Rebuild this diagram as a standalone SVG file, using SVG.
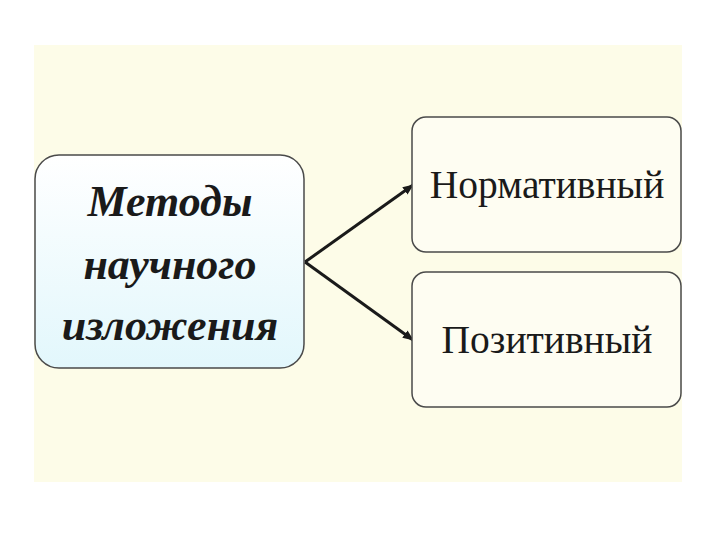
<svg xmlns="http://www.w3.org/2000/svg" width="720" height="540" viewBox="0 0 720 540">
<style>
.box{stroke:#4a4a4a;stroke-width:1.5}
.conn{stroke:#1a1a1a;stroke-width:3;fill:none}
.t1{font-family:"Liberation Serif",serif;font-weight:bold;font-style:italic;font-size:44px;fill:#1a1a1a;text-anchor:middle}
.t2{font-family:"Liberation Serif",serif;font-size:39.5px;fill:#1a1a1a;text-anchor:middle}
</style>
<defs>
<linearGradient id="g1" x1="0" y1="0" x2="0" y2="1">
<stop offset="0" stop-color="#ffffff"/>
<stop offset="1" stop-color="#e2f7fc"/>
</linearGradient>
<marker id="ah" markerWidth="12" markerHeight="12" refX="10" refY="6" orient="auto" markerUnits="userSpaceOnUse">
<path d="M0,1.5 L11,6 L0,10.5 Z" fill="#1a1a1a"/>
</marker>
</defs>
<rect width="720" height="540" fill="#ffffff"/>
<rect x="34" y="45" width="648" height="437" fill="#fdfce8"/>
<g id="connectors">
<path class="conn" d="M305,262 L413,185" marker-end="url(#ah)"/>
<path class="conn" d="M305,262 L413,340" marker-end="url(#ah)"/>
</g>
<g id="node-methods">
<rect class="box" x="35" y="155" width="269" height="213" rx="24" fill="url(#g1)"/>
<text class="t1" x="170" y="216">Методы</text>
<text class="t1" x="170" y="279">научного</text>
<text class="t1" x="170" y="340">изложения</text>
</g>
<g id="node-normative">
<rect class="box" x="412" y="117" width="269" height="135" rx="14" fill="#fefdf2"/>
<text class="t2" x="547" y="198">Нормативный</text>
</g>
<g id="node-positive">
<rect class="box" x="412" y="272" width="269" height="135" rx="14" fill="#fefdf2"/>
<text class="t2" x="547" y="353">Позитивный</text>
</g>
</svg>
